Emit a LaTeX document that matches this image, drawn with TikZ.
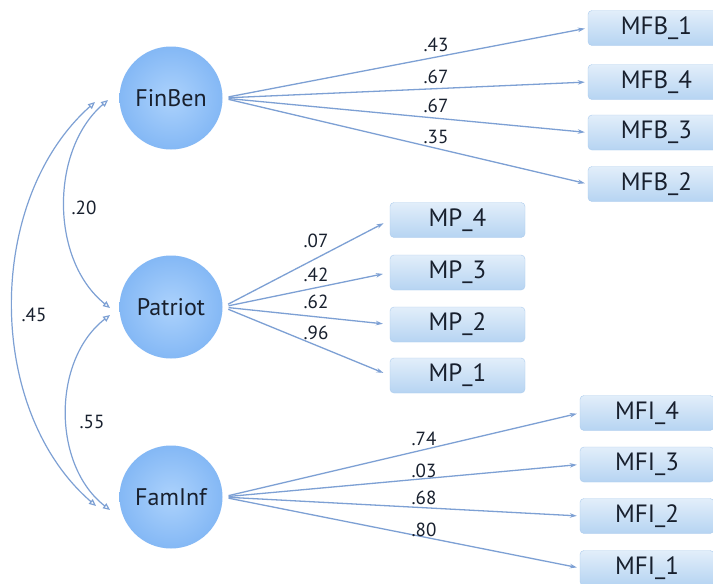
\documentclass[tikz,border=0pt]{standalone}
\usepackage{fontspec}
\setmainfont{PT Sans}
\usetikzlibrary{arrows.meta,shadings}
\definecolor{lineblue}{RGB}{125,160,212}
\definecolor{circin}{RGB}{172,210,252}
\definecolor{circout}{RGB}{132,184,245}
\definecolor{boxtop}{RGB}{226,238,250}
\definecolor{boxbot}{RGB}{182,212,242}
\definecolor{boxedge}{RGB}{172,204,238}
\definecolor{txt}{RGB}{24,32,46}
\tikzset{
  latent/.style={circle, minimum size=103pt, inner sep=0pt, draw=none,
    inner color=circin, outer color=circout, font=\fontsize{24}{28}\selectfont, text=txt},
  obsbox/.style={rectangle, rounded corners=4pt, minimum height=35pt, inner sep=0pt,
    top color=boxtop, bottom color=boxbot, draw=boxedge, line width=0.4pt,
    font=\fontsize{25}{28}\selectfont, text=txt},
  load/.style={draw=lineblue, line width=1.3pt, -{Stealth[length=7pt,width=4.5pt]},
    shorten <=6pt},
  corr/.style={draw=lineblue, line width=1.2pt,
    {Triangle[open,length=7pt,width=6pt]}-{Triangle[open,length=7pt,width=6pt]}},
  coef/.style={font=\fontsize{19}{21}\selectfont, text=txt, inner sep=0pt}
}
\begin{document}
\begin{tikzpicture}[x=1pt,y=-1pt]
\clip (0,0) rectangle (713,584);
\fill[white] (0,0) rectangle (713,584);

% latent variables
\node[latent] (FinBen) at (171,98) {FinBen};
\node[latent] (Patriot) at (171,307) {Patriot};
\node[latent] (FamInf) at (171,497) {FamInf};

% MFB boxes
\node[obsbox, minimum width=137pt] (MFB1) at (656.5,28) {MFB\_1};
\node[obsbox, minimum width=137pt] (MFB4) at (656.5,82) {MFB\_4};
\node[obsbox, minimum width=137pt] (MFB3) at (656.5,132.5) {MFB\_3};
\node[obsbox, minimum width=137pt] (MFB2) at (656.5,184) {MFB\_2};

% MP boxes
\node[obsbox, minimum width=135pt] (MP4) at (457.5,220) {MP\_4};
\node[obsbox, minimum width=135pt] (MP3) at (457.5,272.5) {MP\_3};
\node[obsbox, minimum width=135pt] (MP2) at (457.5,324.5) {MP\_2};
\node[obsbox, minimum width=135pt] (MP1) at (457.5,375.5) {MP\_1};

% MFI boxes
\node[obsbox, minimum width=134pt] (MFI4) at (647,413) {MFI\_4};
\node[obsbox, minimum width=134pt] (MFI3) at (647,464.5) {MFI\_3};
\node[obsbox, minimum width=134pt] (MFI2) at (647,516) {MFI\_2};
\node[obsbox, minimum width=134pt] (MFI1) at (647,568) {MFI\_1};

% loadings
\draw[load, shorten >=3pt] (FinBen.east) -- (MFB1.west);
\draw[load, shorten >=3pt] (FinBen.east) -- (MFB4.west);
\draw[load, shorten >=3pt] (FinBen.east) -- (MFB3.west);
\draw[load, shorten >=3pt] (FinBen.east) -- (MFB2.west);

\draw[load, shorten >=7pt] (Patriot.east) -- (MP4.west);
\draw[load, shorten >=7pt] (Patriot.east) -- (MP3.west);
\draw[load, shorten >=7pt] (Patriot.east) -- (MP2.west);
\draw[load, shorten >=7pt] (Patriot.east) -- (MP1.west);

\draw[load, shorten >=3pt] (FamInf.east) -- (MFI4.west);
\draw[load, shorten >=3pt] (FamInf.east) -- (MFI3.west);
\draw[load, shorten >=3pt] (FamInf.east) -- (MFI2.west);
\draw[load, shorten >=3pt] (FamInf.east) -- (MFI1.west);

% loading labels
\node[coef] (l1) at (436,45) {.43};
\node[coef] (l2) at (436,77) {.67};
\node[coef] (l3) at (436,106) {.67};
\node[coef] (l4) at (436,137) {.35};

\node[coef] (p1) at (316,241) {.07};
\node[coef] (p2) at (316,275) {.42};
\node[coef] (p3) at (316,302) {.62};
\node[coef] (p4) at (316,333) {.96};

\node[coef] (f1) at (424,439) {.74};
\node[coef] (f2) at (424,471) {.03};
\node[coef] (f3) at (424,498) {.68};
\node[coef] (f4) at (424,530) {.80};

% correlations
\coordinate (a1) at (108,100);
\coordinate (a2) at (110,308);
\coordinate (b1) at (95,102);
\coordinate (b2) at (96,506);
\coordinate (c1) at (110,315);
\coordinate (c2) at (110,510);
\draw[corr] (a1) .. controls (50,150) and (50,260) .. (a2);
\draw[corr] (b1) .. controls (-15,200) and (-15,410) .. (b2);
\draw[corr] (c1) .. controls (52,360) and (52,465) .. (c2);

\node[coef] (r1) at (84,208) {.20};
\node[coef] (r2) at (34,315) {.45};
\node[coef] (r3) at (92,422) {.55};
\end{tikzpicture}
\end{document}
